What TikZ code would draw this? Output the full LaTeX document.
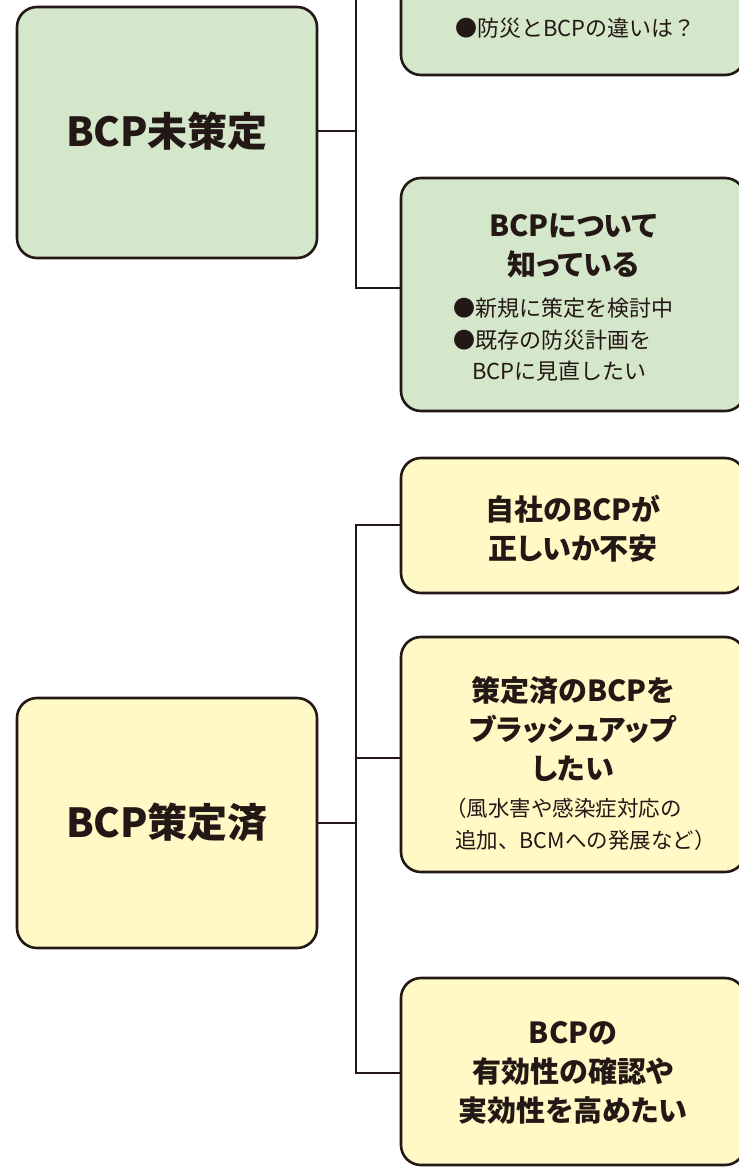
\documentclass[tikz,border=0pt]{standalone}
\usepackage{fontspec}
\setmainfont{Noto Sans CJK JP}
\newfontfamily\jpb{Noto Sans CJK JP}[RawFeature=+palt]
\definecolor{ink}{HTML}{231815}
\definecolor{gfill}{HTML}{D5E7CA}
\definecolor{yfill}{HTML}{FEF9C5}
\tikzset{
  box/.style={draw=ink, line width=2.6pt, rounded corners=20pt, anchor=north west, inner sep=0pt, outer sep=0pt},
  gbox/.style={box, fill=gfill},
  ybox/.style={box, fill=yfill},
  conn/.style={draw=ink, line width=2.4pt},
  bigtxt/.style={text=ink, font=\jpb\bfseries\fontsize{40}{48}\selectfont, inner sep=0pt},
  ttl/.style={text=ink, align=center, font=\jpb\bfseries\fontsize{29}{39}\selectfont, inner sep=0pt},
  bul/.style={text=ink, align=left, anchor=west, font=\fontsize{22}{31.5}\selectfont, inner sep=0pt},
  sml/.style={text=ink, align=left, anchor=west, font=\fontsize{21.5}{32}\selectfont, inner sep=0pt},
}
\begin{document}
\begin{tikzpicture}[x=1pt,y=-1pt]
\useasboundingbox (0,0) rectangle (739,1168);
\clip (0,0) rectangle (739,1168);
% boxes
\node[gbox, minimum width=300pt, minimum height=251pt] (lg) at (17,7) {};
\node[ybox, minimum width=300pt, minimum height=250pt] (ly) at (17,698) {};
\node[gbox, minimum width=344pt, minimum height=245pt] (rg1) at (401,-170) {};
\node[gbox, minimum width=344pt, minimum height=233pt] (rg2) at (401,178) {};
\node[ybox, minimum width=344pt, minimum height=135pt] (ry3) at (401,458) {};
\node[ybox, minimum width=344pt, minimum height=235pt] (ry4) at (401,637) {};
\node[ybox, minimum width=344pt, minimum height=187pt] (ry5) at (401,978) {};
% connectors
\coordinate (jg0) at (356,-60);
\coordinate (jg1) at (356,131);
\coordinate (jg2) at (356,288);
\draw[conn] (lg.east |- jg1) -- (jg1);
\draw[conn] (rg1.west |- jg0) -- (jg0) -- (jg2) -- (rg2.west |- jg2);
\coordinate (jy3) at (356,525);
\coordinate (jy4) at (356,758);
\coordinate (jy1) at (356,823);
\coordinate (jy5) at (356,1073);
\draw[conn] (ry3.west |- jy3) -- (jy3) -- (jy5) -- (ry5.west |- jy5);
\draw[conn] (jy4) -- (ry4.west |- jy4);
\draw[conn] (ly.east |- jy1) -- (jy1);
% texts
\node[bigtxt] (tlg) at (167,131) {BCP未策定};
\node[bigtxt] (tly) at (167,822) {BCP策定済};
\node[bul] (t1) at (455,28) {●防災とBCPの違いは？};
\node[ttl] (t2) at (573,246) {BCPについて\\知っている};
\node[bul] (t2b) at (453,340) {●新規に策定を検討中\\●既存の防災計画を\\\hspace{19pt}BCPに見直したい};
\node[ttl] (t3) at (573,529) {自社のBCPが\\正しいか不安};
\node[ttl] (t4) at (573,729) {策定済のBCPを\\ブラッシュアップ\\したい};
\node[sml] (t4b) at (445,824) {（風水害や感染症対応の\\\hspace{10pt}追加、BCMへの発展など）};
\node[ttl] (t5) at (573,1073) {BCPの\\有効性の確認や\\実効性を高めたい};
\end{tikzpicture}
\end{document}
